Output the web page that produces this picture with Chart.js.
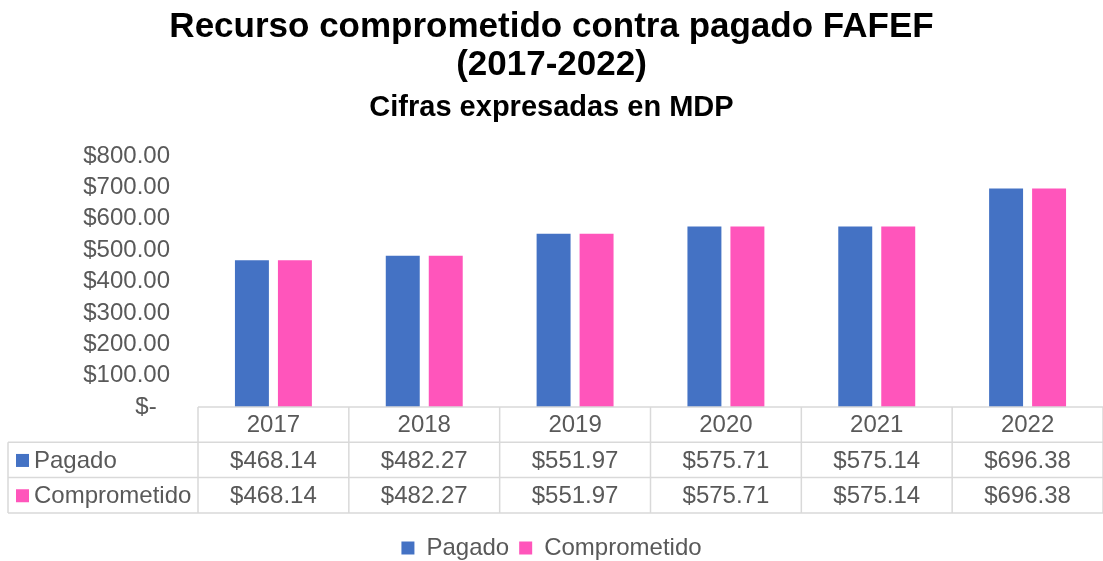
<!DOCTYPE html>
<html lang="es">
<head>
<meta charset="utf-8">
<title>Recurso comprometido contra pagado FAFEF</title>
<script src="https://cdn.jsdelivr.net/npm/chart.js@4/dist/chart.umd.min.js"></script>
<style>
  html, body { margin: 0; padding: 0; background: #ffffff; }
  #wrap { position: relative; width: 1103px; height: 561px; }
</style>
</head>
<body>
<div id="wrap"><canvas id="fafefChart" width="1103" height="561"></canvas></div>
<script>
// Chart data
const years = ['2017', '2018', '2019', '2020', '2021', '2022'];
const pagado = [468.14, 482.27, 551.97, 575.71, 575.14, 696.38];
const comprometido = [468.14, 482.27, 551.97, 575.71, 575.14, 696.38];
const seriesNames = ['Pagado', 'Comprometido'];
const yTicks = [0, 100, 200, 300, 400, 500, 600, 700, 800];

const BLUE = '#4472C4';
const PINK = '#FF55BB';
const TEXT = '#595959';
const GRID = '#D9D9D9';
const FONT = "'Liberation Sans', Arial, sans-serif";

function money(v) {
    return '$' + v.toFixed(2);
}

// Excel style data table drawn under the plot, columns follow the x scale
const dataTable = {
    id: 'dataTable',
    afterDraw(chart) {
        const { ctx, chartArea } = chart;
        const x = chart.scales.x;
        const rowH = 35.3;
        const top = chartArea.bottom;
        const left = 8;
        const right = chartArea.right;
        const half = (x.getPixelForValue(1) - x.getPixelForValue(0)) / 2;
        const rows = [pagado, comprometido];
        const colors = [BLUE, PINK];

        ctx.save();
        ctx.strokeStyle = GRID;
        ctx.lineWidth = 1.5;
        ctx.beginPath();
        // header row top
        ctx.moveTo(chartArea.left, top);
        ctx.lineTo(right, top);
        for (let r = 1; r <= 3; r++) {
            ctx.moveTo(left, top + r * rowH);
            ctx.lineTo(right, top + r * rowH);
        }
        ctx.moveTo(left, top + rowH);
        ctx.lineTo(left, top + 3 * rowH);
        years.forEach((y, i) => {
            const bx = x.getPixelForValue(i) - half;
            ctx.moveTo(bx, top);
            ctx.lineTo(bx, top + 3 * rowH);
        });
        ctx.moveTo(right, top);
        ctx.lineTo(right, top + 3 * rowH);
        ctx.stroke();

        ctx.fillStyle = TEXT;
        ctx.font = '24px ' + FONT;
        ctx.textAlign = 'center';
        ctx.textBaseline = 'middle';
        years.forEach((y, i) => {
            const cx = x.getPixelForValue(i);
            ctx.fillText(y, cx, top + rowH * 0.5 + 1);
            rows.forEach((vals, r) => {
                ctx.fillText(money(vals[i]), cx, top + rowH * (r + 1.5) + 1);
            });
        });

        ctx.textAlign = 'left';
        seriesNames.forEach((name, r) => {
            const cy = top + rowH * (r + 1.5);
            ctx.fillStyle = colors[r];
            ctx.fillRect(16, cy - 6, 13, 13);
            ctx.fillStyle = TEXT;
            ctx.fillText(name, 34, cy + 1);
        });
        ctx.restore();
    }
};

const ctx = document.getElementById('fafefChart');
new Chart(ctx, {
    type: 'bar',
    data: {
        labels: years,
        datasets: [
            { label: seriesNames[0], data: pagado, backgroundColor: BLUE },
            { label: seriesNames[1], data: comprometido, backgroundColor: PINK }
        ]
    },
    options: {
        responsive: false,
        animation: false,
        layout: { padding: { left: 0, right: 0, top: 0, bottom: -9 } },
        datasets: {
            bar: { categoryPercentage: 0.57, barPercentage: 0.79 }
        },
        plugins: {
            title: {
                display: true,
                text: ['Recurso comprometido contra pagado FAFEF', '(2017-2022)'],
                color: '#000000',
                font: { family: FONT, size: 35, weight: 'bold', lineHeight: 1.086 },
                padding: { top: 8, bottom: 0 }
            },
            subtitle: {
                display: true,
                text: 'Cifras expresadas en MDP',
                color: '#000000',
                font: { family: FONT, size: 29, weight: 'bold', lineHeight: 1.0 },
                padding: { top: 9, bottom: 34 }
            },
            legend: {
                position: 'bottom',
                labels: {
                    color: TEXT,
                    font: { family: FONT, size: 24 },
                    boxWidth: 13,
                    boxHeight: 13,
                    padding: 10
                }
            },
            tooltip: { enabled: false }
        },
        scales: {
            x: {
                grid: { display: false },
                border: { display: false },
                ticks: { display: false },
                afterFit(axis) { axis.height = 119; }
            },
            y: {
                min: 0,
                max: 800,
                grid: { display: false, drawTicks: false },
                border: { display: false },
                afterBuildTicks(axis) { axis.ticks = yTicks.map(v => ({ value: v })); },
                afterFit(axis) { axis.width = 198; },
                ticks: {
                    color: TEXT,
                    padding: 28,
                    autoSkip: false,
                    font: { family: FONT, size: 24 },
                    callback: v => v === 0 ? '$-  ' : money(v)
                }
            }
        }
    },
    plugins: [dataTable]
});
</script>
</body>
</html>
